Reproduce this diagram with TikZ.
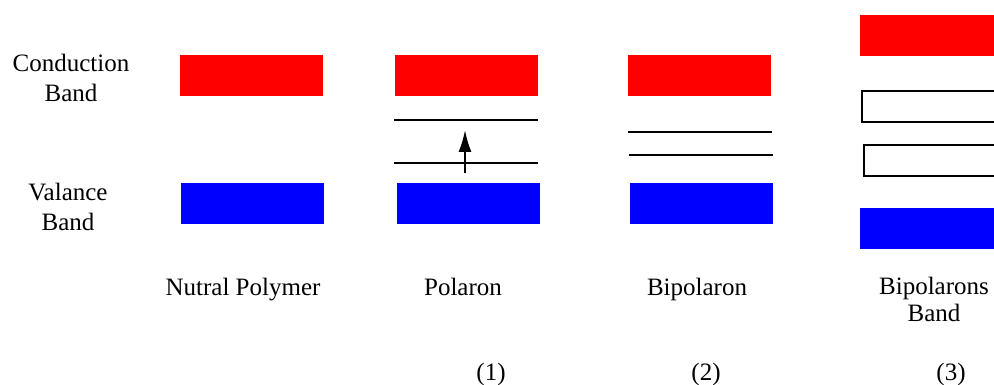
\documentclass[tikz,border=0pt]{standalone}
\usepackage{fontspec}
\setmainfont{Liberation Serif}
\usetikzlibrary{arrows.meta}
\tikzset{
  band/.style={rectangle, inner sep=0pt, outer sep=0pt, minimum width=143pt, minimum height=41pt},
  cband/.style={band, fill=red},
  vband/.style={band, fill=blue},
  level/.style={line width=2pt},
  gapbox/.style={rectangle, draw=black, line width=2pt, fill=white, inner sep=0pt, outer sep=0pt, minimum width=150pt, minimum height=31pt, anchor=west},
  lbl/.style={font=\fontsize{25}{30}\selectfont, align=center, anchor=base, inner sep=0pt},
  uparrow/.style={line width=2pt, -{Latex[length=22pt, width=13pt]}}
}
\begin{document}
\begin{tikzpicture}[x=1pt, y=-1pt]
\useasboundingbox (0,0) rectangle (994,385);
\clip (0,0) rectangle (994,385);

% side labels (base anchor sits on the last line)
\node[lbl] (cblabel) at (71,102) {Conduction\\Band};
\node[lbl] (vblabel) at (68,230) {Valance\\Band};

% neutral polymer
\node[cband] (cb1) at (251.5,75.5) {};
\node[vband] (vb1) at (252.5,203.5) {};
\node[lbl] (t1) at (243,295) {Nutral Polymer};

% polaron
\node[cband] (cb2) at (466.5,75.5) {};
\node[vband] (vb2) at (468,203.5) {};
\coordinate (p1l) at (394,120);
\coordinate (p1r) at (538,120);
\coordinate (p2l) at (394,163);
\coordinate (p2r) at (538,163);
\draw[level] (p1l) -- (p1r);
\draw[level] (p2l) -- (p2r);
\coordinate (arrfrom) at (465,173);
\coordinate (arrto) at (465,130);
\draw[uparrow] (arrfrom) -- (arrto);
\node[lbl] (t2) at (463,295) {Polaron};
\node[lbl] (n1) at (491,380) {(1)};

% bipolaron
\node[cband] (cb3) at (699.5,75.5) {};
\node[vband] (vb3) at (701,203.5) {};
\coordinate (b1l) at (628,132);
\coordinate (b1r) at (772,132);
\coordinate (b2l) at (629,155);
\coordinate (b2r) at (773,155);
\draw[level] (b1l) -- (b1r);
\draw[level] (b2l) -- (b2r);
\node[lbl] (t3) at (697,295) {Bipolaron};
\node[lbl] (n2) at (706,380) {(2)};

% bipolaron bands
\node[cband, anchor=west] (cb4) at (860,36) {};
\node[gapbox] (g1) at (862,107) {};
\node[gapbox] (g2) at (864,161) {};
\node[vband, anchor=west] (vb4) at (860,228.5) {};
\node[lbl] (t4) at (934,321) {Bipolarons\\[-3pt]Band};
\node[lbl] (n3) at (951,380) {(3)};
\end{tikzpicture}
\end{document}
